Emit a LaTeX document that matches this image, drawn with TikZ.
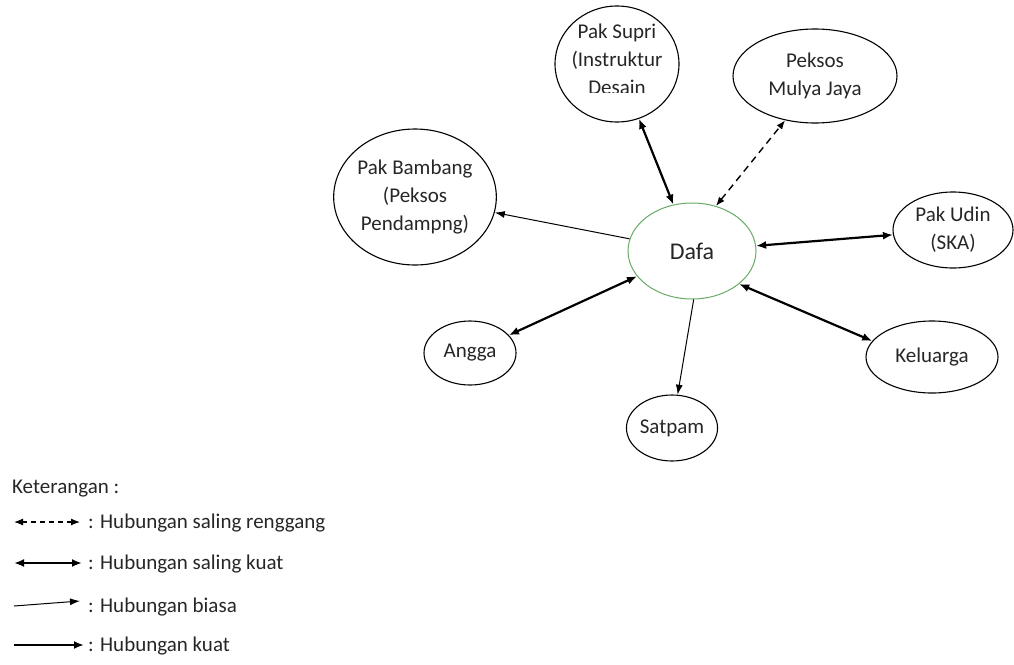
\documentclass[tikz,border=0pt]{standalone}
\usepackage{fontspec}
\setmainfont{Carlito}
\usetikzlibrary{shapes.geometric,arrows.meta}
\begin{document}
\begin{tikzpicture}[x=1pt,y=-1pt,
  ell/.style={ellipse, draw=black, line width=1.1pt, inner sep=0pt, align=center,
    font=\fontsize{21}{28}\selectfont, text=black!85},
  lbl/.style={inner sep=0pt, align=center, font=\fontsize{21}{28}\selectfont, text=black!85},
  leg/.style={anchor=west, inner sep=0pt, font=\fontsize{21}{24}\selectfont, text=black!85},
  thinarr/.style={line width=1pt, -{Latex[length=10pt,width=7pt]}},
  strongarr/.style={line width=2.2pt, {Latex[length=10pt,width=8pt]}-{Latex[length=10pt,width=8pt]}},
  strongone/.style={line width=2.2pt, -{Latex[length=10pt,width=8pt]}},
  loosearr/.style={line width=1.4pt, dash pattern=on 7pt off 5pt, {Latex[length=9pt,width=7pt]}-{Latex[length=9pt,width=7pt]}}
]
\useasboundingbox (0,0) rectangle (1014,664);

% nodes
\node[ell, draw=green!45!black!60, line width=1pt, minimum width=128, minimum height=96,
      font=\fontsize{24}{28}\selectfont] (dafa) at (692,251) {Dafa};
\node[ell, minimum width=124, minimum height=116] (supri) at (617,64) {};
\begin{scope}
  \clip (540,8) rectangle (700,92);
  \node[lbl] (supritext) at (617,59) {Pak Supri\\(Instruktur\\Desain};
\end{scope}
\node[ell, minimum width=156, minimum height=136] (bambang) at (415,197) {Pak Bambang\\(Peksos\\Pendampng)};
\node[ell, minimum width=164, minimum height=94] (peksos) at (815,76) {Peksos\\Mulya Jaya};
\node[ell, minimum width=120, minimum height=76] (udin) at (953,230) {Pak Udin\\(SKA)};
\node[ell, minimum width=92, minimum height=64] (angga) at (470,353) {Angga};
\node[ell, minimum width=84, minimum height=66] (satpam) at (672,428) {Satpam};
\node[ell, minimum width=132, minimum height=72] (keluarga) at (932,357) {Keluarga};

% connectors
\draw[thinarr] (dafa) -- (bambang);
\draw[strongarr] (supri) -- (dafa);
\draw[loosearr] (dafa.62) -- (peksos.236);
\draw[strongarr] (dafa) -- (udin);
\draw[strongarr] (dafa) -- (angga);
\draw[thinarr] (dafa.272) -- (satpam);
\draw[strongarr] (dafa.-35) -- (keluarga.165);

% legend
\node[leg] (ket) at (12,489) {Keterangan :};
\coordinate (l1a) at (14,522); \coordinate (l1b) at (80,522);
\coordinate (l2a) at (14,563); \coordinate (l2b) at (82,563);
\coordinate (l3a) at (14,606); \coordinate (l3b) at (80,601);
\coordinate (l4a) at (14,645); \coordinate (l4b) at (84,645);
\draw[loosearr, line width=1.2pt, dash pattern=on 5pt off 4pt] (l1a) -- (l1b);
\draw[strongarr] (l2a) -- (l2b);
\draw[thinarr] (l3a) -- (l3b);
\draw[strongone] (l4a) -- (l4b);
\node[leg] (t1) at (88,523) {: Hubungan saling renggang};
\node[leg] (t2) at (88,564) {: Hubungan saling kuat};
\node[leg] (t3) at (88,607) {: Hubungan biasa};
\node[leg] (t4) at (88,646) {: Hubungan kuat};
\end{tikzpicture}
\end{document}
